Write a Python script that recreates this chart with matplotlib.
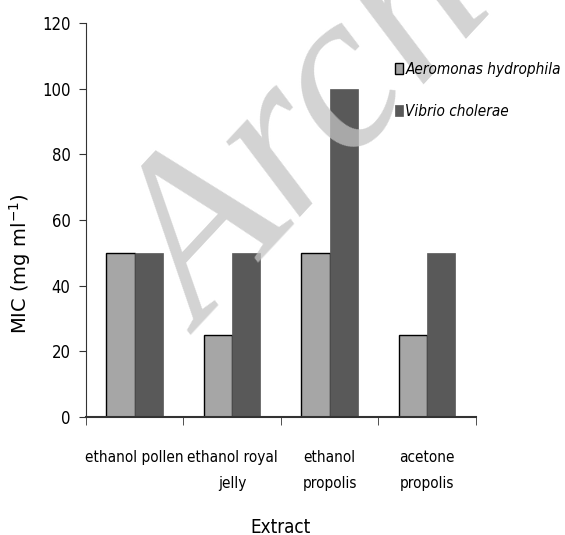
import numpy as np
import matplotlib.pyplot as plt
from matplotlib import font_manager
from matplotlib.font_manager import FontProperties

# Data
extracts = ["ethanol pollen", "ethanol royal\njelly", "ethanol\npropolis", "acetone\npropolis"]
aeromonas = [50, 25, 50, 25]
vibrio = [50, 50, 100, 50]

# look for a narrow font, fall back to DejaVu Sans
narrow_file = None
narrow_italic = None
for f in font_manager.fontManager.ttflist:
    fn = f.fname.lower()
    if ("condensed" in fn or "narrow" in fn) and "bold" not in fn:
        if "oblique" in fn or "italic" in fn:
            narrow_italic = narrow_italic or f.fname
        else:
            narrow_file = narrow_file or f.fname


def nfont(size, italic=False):
    path = narrow_italic if italic else narrow_file
    if path:
        return FontProperties(fname=path, size=size)
    return FontProperties(family="DejaVu Sans", size=size, style="italic" if italic else "normal")


fig = plt.figure(figsize=(5.65, 5.35), dpi=100)
ax = fig.add_axes([0.152, 0.2206, 0.69, 0.736])

x = np.arange(len(extracts))
w = 0.29
ax.bar(x - w / 2, aeromonas, w, color="#a6a6a6", edgecolor="black", linewidth=1,
       label="Aeromonas hydrophila", zorder=2)
ax.bar(x + w / 2, vibrio, w, color="#595959", edgecolor="#595959", linewidth=0.5,
       label="Vibrio cholerae", zorder=2)

ax.set_xlim(-0.5, len(extracts) - 0.5)
ax.set_ylim(0, 120)
ax.set_yticks(range(0, 121, 20))
ax.set_yticklabels([str(v) for v in range(0, 121, 20)], fontproperties=nfont(12))

ax.set_xticks(x)
ax.set_xticklabels(extracts, fontproperties=nfont(11), linespacing=1.85)
ax.tick_params(axis="x", length=0, pad=24)
ax.set_xticks(np.arange(-0.5, len(extracts)), minor=True)
ax.tick_params(axis="x", which="minor", length=6, direction="out", color="#333333")
ax.tick_params(axis="y", length=5, color="#333333", pad=6)

for s in ["top", "right"]:
    ax.spines[s].set_visible(False)
ax.spines["left"].set_color("#333333")
ax.spines["bottom"].set_color("#333333")
ax.spines["bottom"].set_linewidth(1.5)

ax.set_ylabel("MIC (mg ml$^{-1}$)", fontsize=14)
ax.yaxis.set_label_coords(-0.135, 0.39)
ax.set_xlabel("Extract", fontproperties=nfont(13.5), labelpad=20)

leg = ax.legend(loc="center left", bbox_to_anchor=(0.757, 0.83), frameon=False,
                prop=nfont(11, italic=True),
                handlelength=0.55, handleheight=0.75, handletextpad=0.15, labelspacing=1.75)
leg.set_zorder(12)

# watermark
ax.text(0.36, 0.375, "Archive", fontsize=165, fontstyle="italic",
        color="#c4c4c4", alpha=0.75, rotation=47, ha="left", va="baseline",
        rotation_mode="anchor", family="Liberation Serif", zorder=5,
        transform=fig.transFigure, clip_on=False)

fig.savefig("out.png", dpi=100)
